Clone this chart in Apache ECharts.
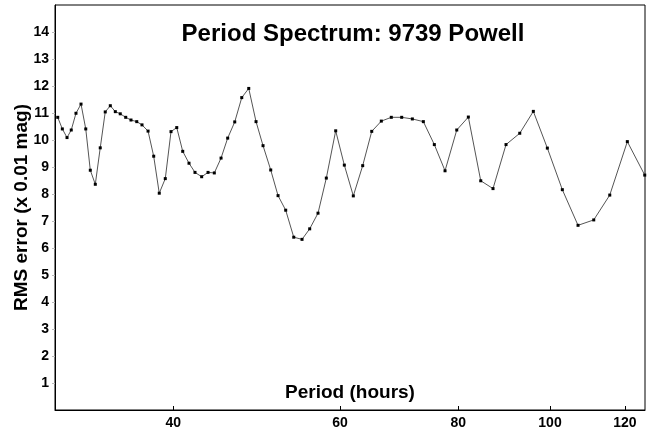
<!DOCTYPE html>
<html><head><meta charset="utf-8">
<script src="https://cdn.jsdelivr.net/npm/echarts@6/dist/echarts.min.js"></script>
<style>html,body{margin:0;padding:0;background:#fff}#c{width:652px;height:436px}</style>
</head><body><div id="c"></div>
<script>
const titleText = "Period Spectrum: 9739 Powell";
const xName = "Period (hours)";
const yName = "RMS error (x 0.01 mag)";
const periods = [30.20,30.54,30.89,31.21,31.57,31.96,32.33,32.69,33.09,33.49,33.90,34.32,34.74,35.16,35.63,36.09,36.60,37.07,37.62,38.14,
 38.66,39.23,39.78,40.34,40.93,41.56,42.17,42.86,43.53,44.20,44.93,45.66,46.45,47.25,48.06,
 48.92,49.76,50.70,51.61,52.58,53.62,54.71,55.74,56.88,58.04,59.38,60.64,61.98,
 63.41,64.82,66.35,67.98,69.72,71.55,73.49,75.48,77.47,
 79.71,81.99,84.50,87.06,89.86,92.91,96.03,99.36,
 103.05,107.06,111.23,115.65,120.70,125.92];
const rms = [10.84,10.41,10.09,10.37,10.99,11.33,10.41,8.88,8.36,9.71,11.04,11.27,11.05,10.97,10.84,10.74,10.68,10.56,10.33,9.40,
 8.03,8.57,10.31,10.46,9.58,9.14,8.80,8.64,8.80,8.78,9.33,10.07,10.67,11.57,11.91,
 10.68,9.79,8.89,7.94,7.40,6.40,6.32,6.71,7.29,8.59,10.34,9.07,7.93,
 9.05,10.32,10.70,10.84,10.84,10.78,10.68,9.83,8.86,
 10.37,10.85,8.49,8.20,9.83,10.25,11.06,9.70,
 8.16,6.84,7.04,7.96,9.94,8.70];
const xTicks = [40,60,80,100,120];
const yTicks = [1,2,3,4,5,6,7,8,9,10,11,12,13,14];

const chart = echarts.init(document.getElementById('c'));
const F = '"Liberation Sans", Arial, sans-serif';
chart.setOption({
  animation:false,
  backgroundColor:'#fff',
  title:{text:titleText,left:348,top:17,textAlign:'center',
    textStyle:{fontFamily:F,fontSize:24,fontWeight:'bold',color:'#000'}},
  grid:{left:55,right:7,top:5,bottom:26,show:true,borderColor:'#000',borderWidth:1},
  xAxis:{type:'log',logBase:10,min:30,max:126,
    name:xName,nameLocation:'middle',nameGap:-8,
    nameTextStyle:{fontFamily:F,fontSize:19,fontWeight:'bold',color:'#000',verticalAlign:'bottom'},
    axisLine:{show:true,lineStyle:{color:'#000',width:1}},
    axisTick:{show:true,inside:true,length:4,customValues:xTicks,lineStyle:{color:'#000'}},
    axisLabel:{customValues:xTicks,fontFamily:F,fontSize:14,fontWeight:'bold',color:'#000',margin:6,
      formatter:v=>String(Math.round(v))},
    splitLine:{show:false},minorTick:{show:false}},
  yAxis:{type:'value',min:0,max:15,interval:1,
    name:yName,nameLocation:'middle',nameGap:24,nameMoveOverlap:false,
    nameTextStyle:{fontFamily:F,fontSize:19,fontWeight:'bold',color:'#000'},
    axisLine:{show:true,lineStyle:{color:'#000',width:1}},
    axisTick:{show:true,inside:false,length:3,customValues:yTicks,lineStyle:{color:'#bbb'}},
    axisLabel:{customValues:yTicks,fontFamily:F,fontSize:14,fontWeight:'bold',color:'#000',margin:6},
    splitLine:{show:false}},
  series:[{type:'line',data:periods.map((p,i)=>[p,rms[i]]),
    symbol:'rect',symbolSize:3,showAllSymbol:true,
    itemStyle:{color:'#000'},lineStyle:{color:'#555',width:1}}]
});
</script></body></html>
